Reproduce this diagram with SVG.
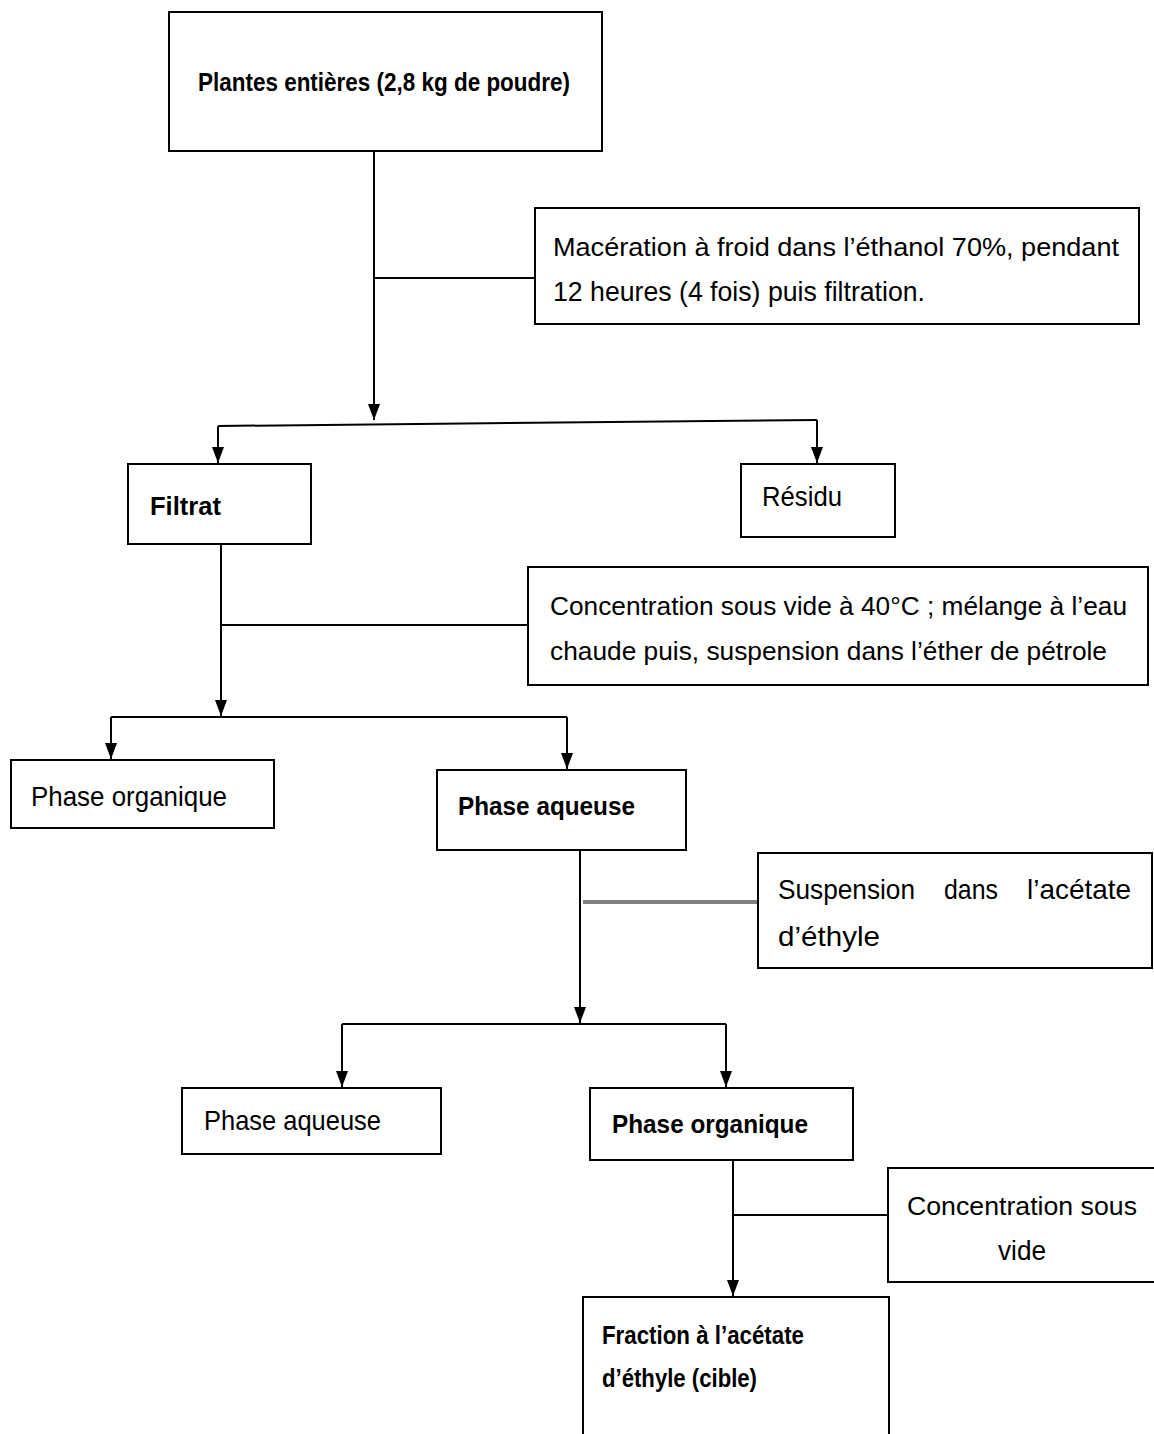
<svg xmlns="http://www.w3.org/2000/svg" width="1154" height="1434" viewBox="0 0 1154 1434">
<defs>
<marker id="arr" markerUnits="userSpaceOnUse" markerWidth="16" markerHeight="12" refX="16" refY="6" orient="auto">
<path d="M0,0 L16,6 L0,12 z" fill="#000"/>
</marker>
<style>
.box{fill:#fff;stroke:#000;stroke-width:2}
.ln{fill:none;stroke:#000;stroke-width:2}
.gray{fill:none;stroke:#808080;stroke-width:4}
.t{font-family:"Liberation Sans Narrow","Liberation Sans",Arial,sans-serif;font-size:28px;fill:#000}
.s{font-size:25px}
.b{font-family:"Liberation Sans Narrow","Liberation Sans",Arial,sans-serif;font-size:26px;font-weight:bold;fill:#000}
</style>
</defs>
<rect width="1154" height="1434" fill="#fff"/>
<g id="connectors">
<path class="ln" d="M374,151 V420" marker-end="url(#arr)"/>
<path class="ln" d="M374,278 H535"/>
<path class="ln" d="M218,426 L817,420"/>
<path class="ln" d="M218,426 V463" marker-end="url(#arr)"/>
<path class="ln" d="M817,420 V463" marker-end="url(#arr)"/>
<path class="ln" d="M221,544 V716" marker-end="url(#arr)"/>
<path class="ln" d="M221,625 H528"/>
<path class="ln" d="M111,717 H567"/>
<path class="ln" d="M111,717 V759" marker-end="url(#arr)"/>
<path class="ln" d="M567,717 V769" marker-end="url(#arr)"/>
<path class="ln" d="M580,850 V1023" marker-end="url(#arr)"/>
<path class="gray" d="M583,902 H758"/>
<path class="ln" d="M342,1024 H726"/>
<path class="ln" d="M342,1024 V1087" marker-end="url(#arr)"/>
<path class="ln" d="M726,1024 V1087" marker-end="url(#arr)"/>
<path class="ln" d="M733,1160 V1296" marker-end="url(#arr)"/>
<path class="ln" d="M733,1215 H888"/>
</g>
<g id="n-plantes">
<rect class="box" x="169" y="12" width="433" height="139"/>
<text class="b" x="198" y="91" textLength="372" lengthAdjust="spacingAndGlyphs">Plantes entières (2,8 kg de poudre)</text>
</g>
<g id="n-maceration">
<rect class="box" x="535" y="208" width="604" height="116"/>
<text class="t s" x="553" y="256" textLength="566" lengthAdjust="spacingAndGlyphs">Macération à froid dans l’éthanol 70%, pendant</text>
<text class="t" x="553" y="301" textLength="372" lengthAdjust="spacingAndGlyphs">12 heures (4 fois) puis filtration.</text>
</g>
<g id="n-filtrat">
<rect class="box" x="128" y="464" width="183" height="80"/>
<text class="b" x="150" y="515" textLength="71" lengthAdjust="spacingAndGlyphs">Filtrat</text>
</g>
<g id="n-residu">
<rect class="box" x="741" y="464" width="154" height="73"/>
<text class="t" x="762" y="506" textLength="80" lengthAdjust="spacingAndGlyphs">Résidu</text>
</g>
<g id="n-concentration1">
<rect class="box" x="528" y="567" width="620" height="118"/>
<text class="t s" x="550" y="615" textLength="577" lengthAdjust="spacingAndGlyphs">Concentration sous vide à 40°C ; mélange à l’eau</text>
<text class="t s" x="550" y="660" textLength="557" lengthAdjust="spacingAndGlyphs">chaude puis, suspension dans l’éther de pétrole</text>
</g>
<g id="n-phase-org1">
<rect class="box" x="11" y="760" width="263" height="68"/>
<text class="t" x="31" y="806" textLength="196" lengthAdjust="spacingAndGlyphs">Phase organique</text>
</g>
<g id="n-phase-aq1">
<rect class="box" x="437" y="770" width="249" height="80"/>
<text class="b" x="458" y="815" textLength="177" lengthAdjust="spacingAndGlyphs">Phase aqueuse</text>
</g>
<g id="n-suspension">
<rect class="box" x="758" y="853" width="394" height="115"/>
<text class="t" y="899"><tspan x="778" textLength="137" lengthAdjust="spacingAndGlyphs">Suspension</tspan> <tspan x="944" textLength="54" lengthAdjust="spacingAndGlyphs">dans</tspan> <tspan x="1027" textLength="104" lengthAdjust="spacingAndGlyphs">l’acétate</tspan></text>
<text class="t" x="778" y="946" textLength="102" lengthAdjust="spacingAndGlyphs">d’éthyle</text>
</g>
<g id="n-phase-aq2">
<rect class="box" x="182" y="1088" width="259" height="66"/>
<text class="t" x="204" y="1130" textLength="177" lengthAdjust="spacingAndGlyphs">Phase aqueuse</text>
</g>
<g id="n-phase-org2">
<rect class="box" x="590" y="1088" width="263" height="72"/>
<text class="b" x="612" y="1133" textLength="196" lengthAdjust="spacingAndGlyphs">Phase organique</text>
</g>
<g id="n-concentration2">
<rect class="box" x="888" y="1168" width="270" height="114"/>
<text class="t s" x="907" y="1215" textLength="230" lengthAdjust="spacingAndGlyphs">Concentration sous</text>
<text class="t" x="998" y="1260" textLength="48" lengthAdjust="spacingAndGlyphs">vide</text>
</g>
<g id="n-fraction">
<rect class="box" x="583" y="1297" width="306" height="150"/>
<text class="b" x="602" y="1344" textLength="202" lengthAdjust="spacingAndGlyphs">Fraction à l’acétate</text>
<text class="b" x="602" y="1387" textLength="155" lengthAdjust="spacingAndGlyphs">d’éthyle (cible)</text>
</g>
</svg>
